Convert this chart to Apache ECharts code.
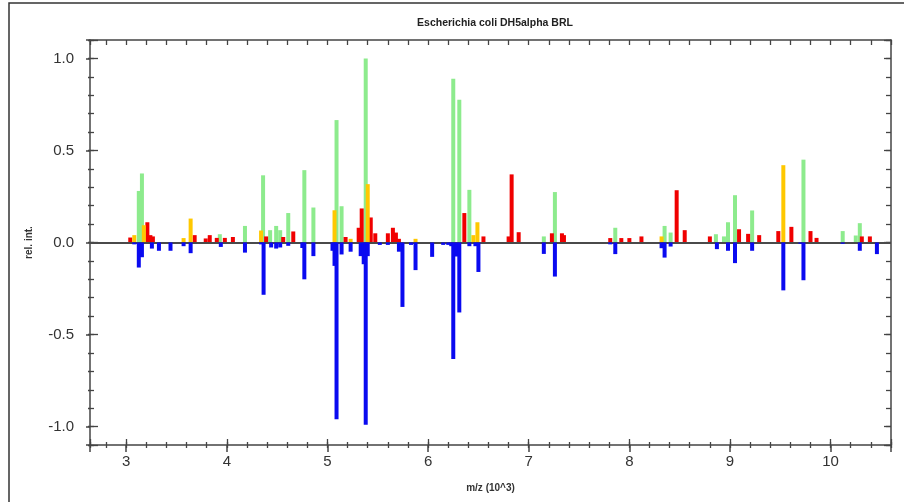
<!DOCTYPE html>
<html>
<head>
<meta charset="utf-8">
<script src="https://cdn.jsdelivr.net/npm/echarts@6/dist/echarts.min.js"></script>
<style>
  html, body { margin: 0; padding: 0; background: #fff; }
  #chart { width: 904px; height: 502px; }
</style>
</head>
<body>
<div id="chart"></div>
<script>
// m/z (10^3) and relative intensity
const greenMz = [3.125, 3.156, 3.93, 4.18, 4.36, 4.43, 4.49, 4.53, 4.61, 4.77, 4.86, 5.09, 5.14, 5.38,
  6.25, 6.31, 6.41, 7.15, 7.26, 7.86, 8.35, 8.41, 8.86, 8.94, 8.98, 9.05, 9.22, 9.73, 10.12, 10.25, 10.29]
const greenInt = [0.28, 0.375, 0.045, 0.09, 0.365, 0.067, 0.09, 0.067, 0.16, 0.393, 0.19, 0.665, 0.197, 1.0,
  0.89, 0.775, 0.286, 0.033, 0.274, 0.08, 0.09, 0.054, 0.045, 0.033, 0.11, 0.257, 0.174, 0.45, 0.062, 0.038, 0.105]

const redMz = [3.04, 3.21, 3.24, 3.265, 3.68, 3.79, 3.83, 3.90, 3.98, 4.06, 4.39, 4.56, 4.66, 5.18, 5.31, 5.34,
  5.43, 5.475, 5.60, 5.65, 5.68, 5.71, 6.36, 6.55, 6.80, 6.83, 6.90, 7.23, 7.33, 7.35, 7.81, 7.92, 8.00, 8.12,
  8.47, 8.55, 8.80, 9.09, 9.18, 9.29, 9.48, 9.61, 9.80, 9.86, 10.31, 10.39]
const redInt = [0.027, 0.11, 0.04, 0.033, 0.04, 0.022, 0.04, 0.025, 0.025, 0.03, 0.033, 0.03, 0.06, 0.03, 0.08, 0.185,
  0.136, 0.05, 0.05, 0.08, 0.054, 0.02, 0.16, 0.033, 0.033, 0.37, 0.056, 0.05, 0.05, 0.04, 0.024, 0.024, 0.024, 0.033,
  0.284, 0.067, 0.033, 0.072, 0.047, 0.04, 0.062, 0.085, 0.062, 0.025, 0.033, 0.033]

const yellowMz = [3.08, 3.175, 3.57, 3.64, 4.34, 5.07, 5.23, 5.40, 5.875, 6.45, 6.49, 8.32, 9.53]
const yellowInt = [0.04, 0.094, 0.024, 0.13, 0.065, 0.175, 0.02, 0.317, 0.02, 0.04, 0.11, 0.033, 0.42]

const blueMz = [3.08, 3.125, 3.156, 3.255, 3.325, 3.44, 3.57, 3.64, 3.94, 4.18, 4.34, 4.365, 4.44, 4.49, 4.53,
  4.61, 4.75, 4.77, 4.86, 5.05, 5.07, 5.09, 5.14, 5.23, 5.33, 5.36, 5.38, 5.40, 5.52, 5.60, 5.71, 5.745, 5.83,
  5.875, 6.04, 6.15, 6.20, 6.23, 6.25, 6.28, 6.31, 6.41, 6.47, 6.50, 7.15, 7.26, 7.81, 7.86, 8.32, 8.35, 8.41,
  8.87, 8.98, 9.05, 9.22, 9.53, 9.70, 9.73, 10.12, 10.29, 10.46]
const blueInt = [-0.01, -0.136, -0.08, -0.033, -0.045, -0.045, -0.02, -0.058, -0.024, -0.055, -0.01, -0.284, -0.027, -0.033, -0.027,
  -0.018, -0.03, -0.2, -0.074, -0.045, -0.127, -0.96, -0.065, -0.05, -0.074, -0.118, -0.99, -0.074, -0.013, -0.013, -0.05, -0.35, -0.013,
  -0.15, -0.078, -0.013, -0.013, -0.02, -0.633, -0.076, -0.38, -0.02, -0.02, -0.16, -0.062, -0.185, -0.01, -0.063, -0.031, -0.082, -0.022,
  -0.036, -0.045, -0.112, -0.045, -0.26, -0.007, -0.205, -0.007, -0.045, -0.063]

const X_MIN = 2.64
const X_MAX = 10.6
const Y_MIN = -1.1
const Y_MAX = 1.1

const pairs = (xs, ys) => xs.map((x, i) => [x, ys[i]])

const axisColor = '#444'
const labelFont = 'Liberation Sans, Arial, sans-serif'

const chart = echarts.init(document.getElementById('chart'))

// tick-only axis, lays over the main one (same min/max so same scale)
const tickAxis = (min, max, position, splitNumber, inside, length) => ({
  type: 'value',
  min,
  max,
  splitNumber,
  position,
  axisLine: { show: false, onZero: false },
  axisTick: { show: true, inside, length, lineStyle: { color: axisColor, width: 1.3 } },
  axisLabel: { show: false },
  splitLine: { show: false },
})

const bar = (name, color, xs, ys, extra) => Object.assign({
  name,
  type: 'bar',
  barWidth: 4,
  barGap: '-100%',
  xAxisIndex: 0,
  yAxisIndex: 0,
  itemStyle: { color },
  data: pairs(xs, ys),
}, extra || {})

const option = {
  animation: false,
  backgroundColor: '#fff',
  title: {
    text: 'Escherichia coli DH5alpha BRL',
    left: 490,
    top: 13,
    textAlign: 'center',
    textStyle: { fontSize: 10.5, fontWeight: 'bold', color: '#222', fontFamily: labelFont },
  },
  graphic: [
    {
      type: 'rect',
      shape: { x: 9, y: 3, width: 920, height: 520 },
      style: { fill: 'none', stroke: '#333', lineWidth: 1.5 },
      silent: true,
    },
  ],
  grid: { left: 90, right: 13, top: 40, bottom: 57 },
  xAxis: [
    {
      type: 'value',
      min: X_MIN,
      max: X_MAX,
      splitNumber: 8,
      position: 'bottom',
      axisLine: { show: true, onZero: false, lineStyle: { color: axisColor, width: 1.5 } },
      axisTick: { show: true, length: 7, lineStyle: { color: axisColor, width: 1.5 } },
      splitLine: { show: false },
      axisLabel: {
        fontSize: 15,
        color: '#333',
        margin: 9,
        fontFamily: labelFont,
        formatter: (v) => (Math.abs(v - Math.round(v)) < 1e-6 ? String(Math.round(v)) : ''),
      },
      name: 'm/z (10^3)',
      nameLocation: 'middle',
      nameGap: 38,
      nameTextStyle: { fontSize: 10, fontWeight: 'bold', color: '#333', fontFamily: labelFont },
    },
    tickAxis(X_MIN, X_MAX, 'bottom', 8, true, 6),
    tickAxis(X_MIN, X_MAX, 'bottom', 40, false, 3),
    tickAxis(X_MIN, X_MAX, 'bottom', 40, true, 3),
    Object.assign(tickAxis(X_MIN, X_MAX, 'top', 40, true, 5), {
      axisLine: { show: true, onZero: false, lineStyle: { color: axisColor, width: 1.5 } },
    }),
  ],
  yAxis: [
    {
      type: 'value',
      min: Y_MIN,
      max: Y_MAX,
      splitNumber: 4,
      position: 'left',
      axisLine: { show: true, onZero: false, lineStyle: { color: axisColor, width: 1.5 } },
      axisTick: { show: true, length: 4, lineStyle: { color: axisColor, width: 1.5 } },
      splitLine: { show: false },
      axisLabel: {
        fontSize: 15,
        color: '#333',
        margin: 16,
        fontFamily: labelFont,
        formatter: (v) => (Math.abs(v * 2 - Math.round(v * 2)) < 1e-6 ? v.toFixed(1) : ''),
      },
      name: 'rel. int.',
      nameLocation: 'middle',
      nameGap: 56,
      nameTextStyle: { fontSize: 10, fontWeight: 'bold', color: '#333', fontFamily: labelFont },
    },
    tickAxis(Y_MIN, Y_MAX, 'left', 4, true, 8),
    tickAxis(Y_MIN, Y_MAX, 'left', 22, false, 2),
    tickAxis(Y_MIN, Y_MAX, 'left', 22, true, 4),
    Object.assign(tickAxis(Y_MIN, Y_MAX, 'right', 22, true, 5), {
      axisLine: { show: true, onZero: false, lineStyle: { color: axisColor, width: 1.5 } },
    }),
    tickAxis(Y_MIN, Y_MAX, 'right', 4, true, 7),
  ],
  series: [
    bar('green', '#8deb8d', greenMz, greenInt),
    bar('red', '#f00000', redMz, redInt),
    bar('yellow', '#ffc800', yellowMz, yellowInt),
    bar('blue', '#0a0af0', blueMz, blueInt, {
      z: 5,
      markLine: {
        silent: true,
        symbol: ['none', 'none'],
        label: { show: false },
        lineStyle: { color: '#4a4a4a', width: 2, type: 'solid' },
        data: [{ yAxis: 0 }],
      },
    }),
  ],
}

chart.setOption(option)
</script>
</body>
</html>
